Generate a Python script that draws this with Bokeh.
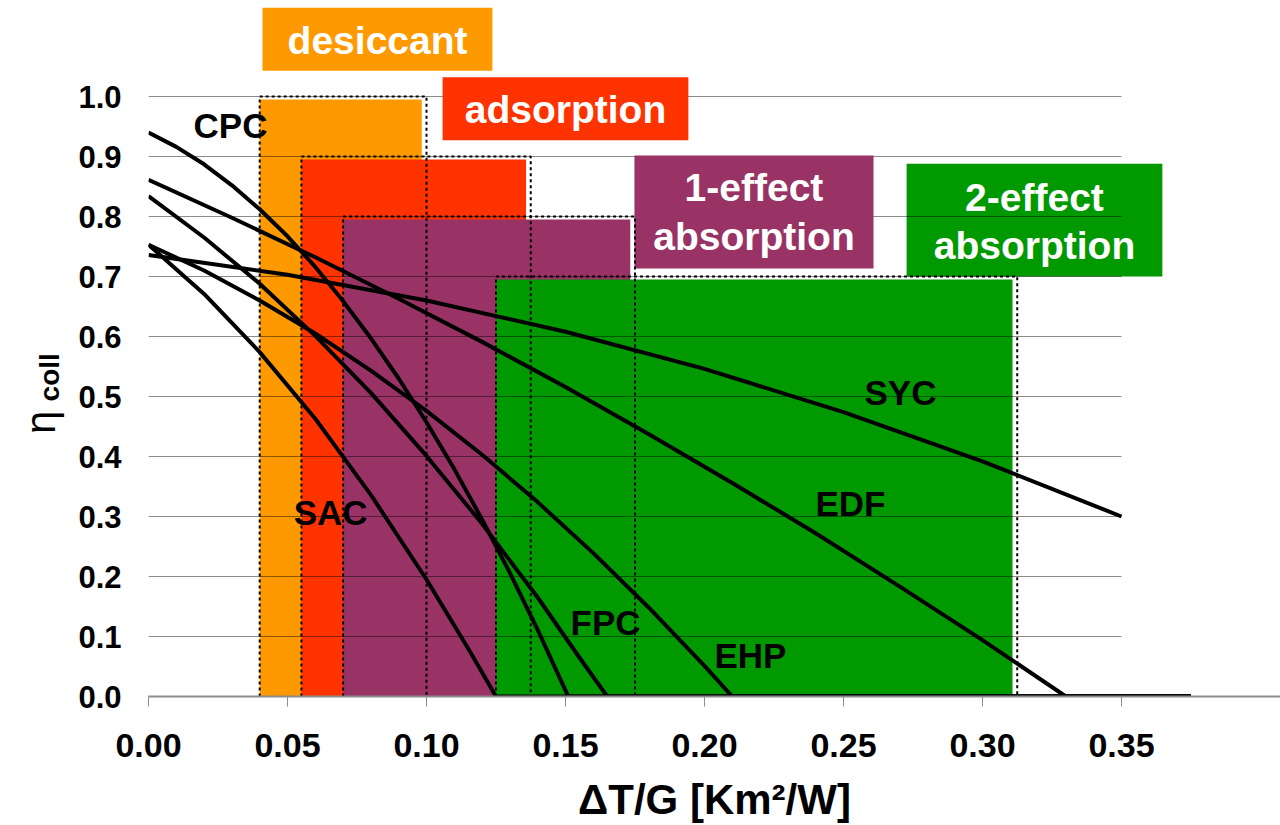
import numpy as np
from bokeh.plotting import figure
from bokeh.layouts import row
from bokeh.models import ColumnDataSource, FixedTicker, NumeralTickFormatter, Range1d
from bokeh.core.properties import value
from bokeh.embed import file_html
from bokeh.resources import INLINE

# ---------------- data ----------------
x_ticks = [0.00, 0.05, 0.10, 0.15, 0.20, 0.25, 0.30, 0.35]
y_ticks = [0.0, 0.1, 0.2, 0.3, 0.4, 0.5, 0.6, 0.7, 0.8, 0.9, 1.0]

# cooling technologies: operating windows (ΔT/G range, efficiency ceiling)
tech_names = ["desiccant", "adsorption", "1-effect absorption", "2-effect absorption"]
tech_left = [0.04, 0.055, 0.07, 0.125]
tech_right = [0.10, 0.1375, 0.175, 0.3125]
tech_top = [1.0, 0.9, 0.8, 0.7]
tech_colors = ["#FF9900", "#FF3300", "#993366", "#009900"]

# collector efficiency curves
cpc_x = [0.0, 0.01, 0.02, 0.03, 0.04, 0.05, 0.06, 0.07, 0.08, 0.09, 0.10, 0.11, 0.12, 0.13, 0.14, 0.151, 0.375]
cpc_y = [0.940, 0.916, 0.887, 0.852, 0.812, 0.767, 0.716, 0.659, 0.597, 0.530, 0.457, 0.379, 0.295, 0.206, 0.111, 0.0, 0.0]

edf_x = [0.0, 0.03, 0.06, 0.09, 0.12, 0.15, 0.18, 0.21, 0.24, 0.27, 0.30, 0.33, 0.375]
edf_y = [0.861, 0.798, 0.732, 0.663, 0.591, 0.516, 0.437, 0.356, 0.272, 0.184, 0.094, 0.0, 0.0]

fpc_x = [0.0, 0.02, 0.04, 0.06, 0.08, 0.10, 0.12, 0.14, 0.155, 0.165, 0.375]
fpc_y = [0.834, 0.765, 0.688, 0.601, 0.506, 0.401, 0.288, 0.165, 0.065, 0.0, 0.0]

ehp_x = [0.0, 0.02, 0.04, 0.06, 0.08, 0.10, 0.12, 0.14, 0.16, 0.18, 0.20, 0.21, 0.375]
ehp_y = [0.753, 0.710, 0.660, 0.605, 0.543, 0.476, 0.403, 0.324, 0.239, 0.148, 0.051, 0.0, 0.0]

sac_x = [0.0, 0.02, 0.04, 0.06, 0.08, 0.10, 0.115, 0.125, 0.375]
sac_y = [0.753, 0.671, 0.574, 0.463, 0.336, 0.195, 0.080, 0.0, 0.0]

syc_x = [0.0, 0.05, 0.10, 0.15, 0.20, 0.25, 0.30, 0.35]
syc_y = [0.736, 0.703, 0.660, 0.608, 0.546, 0.474, 0.392, 0.300]

curve_names = ["CPC", "SAC", "FPC", "EHP", "EDF", "SYC"]

# ---------------- layout / style ----------------
FONT = "Liberation Sans"
LEFT_W = 74
Y_END = 1.16
p = figure(width=1280 - LEFT_W, height=825,
           x_range=Range1d(0, 0.4072), y_range=Range1d(0, Y_END),
           output_backend="svg", toolbar_location=None,
           min_border_left=148 - LEFT_W, min_border_right=0, min_border_top=0, min_border_bottom=129)
p.outline_line_color = None
p.grid.visible = False
p.background_fill_color = "white"
p.border_fill_color = "white"

# axes
p.yaxis.ticker = FixedTicker(ticks=y_ticks)
p.yaxis.formatter = NumeralTickFormatter(format="0.0")
p.yaxis.axis_line_color = None
p.yaxis.major_tick_line_color = None
p.yaxis.minor_tick_line_color = None
p.yaxis.major_label_text_font = FONT
p.yaxis.major_label_text_font_style = "bold"
p.yaxis.major_label_text_font_size = "31px"
p.yaxis.major_label_text_color = "black"
p.yaxis.major_label_standoff = 21

p.xaxis.ticker = FixedTicker(ticks=x_ticks)
p.xaxis.formatter = NumeralTickFormatter(format="0.00")
p.xaxis.axis_line_color = "#8c8c8c"
p.xaxis.axis_line_width = 2
p.xaxis.major_tick_line_color = "#8c8c8c"
p.xaxis.major_tick_out = 10
p.xaxis.major_tick_in = 0
p.xaxis.minor_tick_line_color = None
p.xaxis.major_label_text_font = FONT
p.xaxis.major_label_text_font_style = "bold"
p.xaxis.major_label_text_font_size = "34px"
p.xaxis.major_label_text_color = "black"
p.xaxis.major_label_standoff = 27
p.xaxis.axis_label = "ΔT/G [Km²/W]"
p.xaxis.axis_label_text_font = FONT
p.xaxis.axis_label_text_font_style = "bold"
p.xaxis.axis_label_text_font_size = "42px"
p.xaxis.axis_label_text_color = "black"
p.xaxis.axis_label_standoff = 16

# technology bars (fill slightly inside the dotted outline)
inset_x, inset_y = 0.0017, 0.005
bars = ColumnDataSource(dict(
    left=tech_left,
    right=[r - inset_x for r in tech_right],
    top=[t - inset_y for t in tech_top],
    bottom=[0.0] * 4,
    color=tech_colors))
p.quad(left="left", right="right", top="top", bottom="bottom", fill_color="color",
       line_color=None, source=bars)

# label boxes
box_left = [0.041, 0.1058, 0.1748, 0.2727]
box_right = [0.1237, 0.1942, 0.2608, 0.3647]
box_top = [1.148, 1.032, 0.9017, 0.888]
box_bottom = [1.043, 0.927, 0.7133, 0.700]
p.quad(left=box_left[3:], right=box_right[3:], top=box_top[3:], bottom=box_bottom[3:],
       fill_color=tech_colors[3], line_color=None)

# gridlines (only up to 0.35)
gy = y_ticks[1:]
p.segment(x0=[0.0] * len(gy), x1=[0.35] * len(gy), y0=gy, y1=gy,
          line_color="black", line_alpha=0.45, line_width=1.2)

p.quad(left=box_left[:3], right=box_right[:3], top=box_top[:3], bottom=box_bottom[:3],
       fill_color=tech_colors[:3], line_color=None)

# dotted outlines of the operating windows
xs = [[l, l, r, r] for l, r in zip(tech_left, tech_right)]
ys = [[0.0, t, t, 0.0] for t in tech_top]
p.multi_line(xs=xs, ys=ys, line_color="black", line_width=2, line_dash="3 3")

# collector curves
for cx, cy in [(cpc_x, cpc_y), (edf_x, edf_y), (fpc_x, fpc_y), (ehp_x, ehp_y),
               (sac_x, sac_y), (syc_x, syc_y)]:
    p.line(cx, cy, line_color="black", line_width=4, line_join="round")

# curve labels
lab_x = [0.0295, 0.0655, 0.1644, 0.2165, 0.2525, 0.2705]
lab_y = [0.952, 0.307, 0.123, 0.068, 0.322, 0.507]
p.text(x=lab_x, y=lab_y, text=curve_names, text_font=value(FONT), text_font_style="bold",
       text_font_size="35px", text_color="black", text_align="center", text_baseline="middle")

# technology box labels
tl_x = [0.0824, 0.150, 0.2178, 0.2178, 0.3187, 0.3187]
tl_y = [1.093, 0.978, 0.848, 0.766, 0.832, 0.752]
tl_text = ["desiccant", "adsorption", "1-effect", "absorption", "2-effect", "absorption"]
p.text(x=tl_x, y=tl_y, text=tl_text, text_font=value(FONT), text_font_style="bold",
       text_font_size="39px", text_color="white", text_align="center", text_baseline="middle")

# ---------------- y-axis title panel (eta_coll) ----------------
# frame aligned with the main plot's frame (same vertical data space)
q = figure(width=LEFT_W, height=825, x_range=Range1d(0, LEFT_W), y_range=Range1d(0, Y_END),
           output_backend="svg", toolbar_location=None,
           x_axis_location=None, y_axis_location=None,
           min_border_left=0, min_border_right=0, min_border_top=0, min_border_bottom=129)
q.outline_line_color = None
q.grid.visible = False
q.text(x=[40], y=[0.457], text=["η"], angle=np.pi / 2, text_font=value(FONT),
       text_font_size="42px", text_color="black", text_align="center", text_baseline="alphabetic")
q.text(x=[49], y=[0.532], text=["coll"], angle=np.pi / 2, text_font=value(FONT),
       text_font_style="bold", text_font_size="28px", text_color="black",
       text_align="center", text_baseline="alphabetic")

layout = row(q, p)
open("out.html", "w").write(file_html(layout, INLINE))
